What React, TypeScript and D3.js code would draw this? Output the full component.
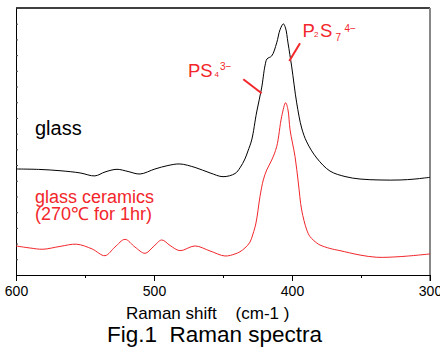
import React, { useEffect, useRef } from "react";
import * as d3 from "d3";

// Raman shift (cm-1) and intensity (a.u.)
const glassShift = [600, 582.6, 568.1, 553.6, 542.8, 535.5, 526.8, 518.8, 510.1, 499.3, 489.9, 481.2, 470.3, 459.4, 450, 441.3, 437.7, 434.1, 431.9, 429.2, 425.6, 422, 419.6, 418.1, 414.7, 411.1, 408.7, 406.3, 404.7, 402.9, 400.2, 396.6, 393, 389.3, 382.1, 372.5, 361.6, 350.7, 336.2, 321.7, 310.9, 300];
const glassInt = [6.75, 6.72, 6.64, 6.5, 6.31, 6.56, 6.73, 6.59, 6.43, 6.75, 6.97, 7.07, 6.85, 6.5, 6.26, 6.46, 6.82, 7.39, 7.9, 8.6, 10.38, 11.91, 13.31, 13.76, 13.95, 14.78, 15.61, 15.99, 15.73, 14.78, 13.25, 10.96, 9.36, 8.47, 7.45, 6.62, 6.27, 6.11, 6.05, 6.05, 6.11, 6.22];

const ceramShift = [600, 589.9, 580.4, 568.1, 556, 544.9, 535.5, 528.3, 521, 513.8, 506.5, 500.7, 494.4, 488.4, 481.2, 470.3, 459.4, 448.6, 441.3, 437.7, 434.1, 430.4, 428.3, 426.1, 423.2, 420.8, 418.3, 414.7, 411.1, 407.5, 404.6, 402.9, 401.4, 397.8, 395.4, 393, 389.3, 386.9, 382.1, 379.7, 372.5, 365.2, 350.7, 338.6, 321.7, 300];
const ceramInt = [1.85, 1.72, 1.64, 1.82, 1.96, 1.66, 1.23, 1.78, 2.27, 1.78, 1.38, 1.78, 2.23, 1.88, 1.55, 1.85, 1.53, 1.21, 1.34, 1.48, 1.72, 2.1, 2.61, 3.31, 4.99, 6.05, 6.69, 7.32, 8.17, 10.08, 10.97, 10.51, 9.24, 7.54, 5.86, 4.14, 2.87, 2.44, 2.04, 1.91, 1.69, 1.55, 1.27, 1.13, 1.17, 1.34];

const majorTicks = [600, 500, 400, 300];
const minorTicks = [550, 450, 350];
const yTicks = d3.range(1, 17);

const RED = "#f2262b";
const FONT = "'Liberation Sans', Arial, sans-serif";

export default function App() {
  const svgRef = useRef<SVGSVGElement>(null);

  useEffect(() => {
    const w = 440;
    const h = 350;
    const svg = d3.select(svgRef.current).attr("width", w).attr("height", h);
    svg.selectAll("*").remove();
    svg.style("font-family", FONT);

    const x = d3.scaleLinear().domain([600, 300]).range([16, 430]);
    const y = d3.scaleLinear().domain([0, 17]).range([275, 8]);

    const line = d3
      .line<[number, number]>()
      .x((d) => x(d[0]))
      .y((d) => y(d[1]))
      .curve(d3.curveCatmullRom.alpha(0.5));

    // frame: top black, right grey
    svg.append("line")
      .attr("x1", x(600)).attr("x2", x(300))
      .attr("y1", y(17)).attr("y2", y(17))
      .attr("stroke", "#000").attr("stroke-width", 1.3);
    svg.append("line")
      .attr("x1", x(300)).attr("x2", x(300))
      .attr("y1", y(17)).attr("y2", y(0) + 6)
      .attr("stroke", "#888").attr("stroke-width", 2);

    // left axis, small inward ticks
    const yAxis = d3.axisRight(y).tickValues(yTicks).tickSize(2).tickSizeOuter(0).tickFormat(() => "");
    svg.append("g").attr("transform", `translate(${x(600)},0)`).call(yAxis)
      .call((g) => g.selectAll("line").attr("stroke", "#444"));

    // bottom axis
    const xAxis = d3.axisBottom(x).tickValues(majorTicks).tickSize(6).tickSizeOuter(0).tickPadding(5).tickFormat(d3.format("d"));
    const gx = svg.append("g").attr("transform", `translate(0,${y(0)})`).call(xAxis);
    gx.selectAll("text").attr("font-size", 14).attr("font-family", FONT).attr("fill", "#000");
    gx.select(".domain").attr("stroke", "#000");
    const xMinor = d3.axisBottom(x).tickValues(minorTicks).tickSize(3).tickFormat(() => "");
    const gm = svg.append("g").attr("transform", `translate(0,${y(0)})`).call(xMinor);
    gm.select(".domain").remove();

    // spectra
    svg.append("path")
      .datum(glassShift.map((v, i) => [v, glassInt[i]] as [number, number]))
      .attr("d", line).attr("fill", "none").attr("stroke", "#000").attr("stroke-width", 1);
    svg.append("path")
      .datum(ceramShift.map((v, i) => [v, ceramInt[i]] as [number, number]))
      .attr("d", line).attr("fill", "none").attr("stroke", RED).attr("stroke-width", 1);

    // pointer lines
    svg.append("line")
      .attr("x1", x(435.3)).attr("y1", y(12.46)).attr("x2", x(422)).attr("y2", y(11.57))
      .attr("stroke", RED).attr("stroke-width", 2);
    svg.append("line")
      .attr("x1", x(394.2)).attr("y1", y(14.76)).attr("x2", x(401.96)).attr("y2", y(13.63))
      .attr("stroke", RED).attr("stroke-width", 2);

    // ion labels
    const ps4 = svg.append("text").attr("fill", RED);
    ps4.append("tspan").attr("x", 188).attr("y", 76.7).attr("font-size", 18.5).text("PS");
    ps4.append("tspan").attr("x", 214.5).attr("y", 76.5).attr("font-size", 8).text("4");
    ps4.append("tspan").attr("x", 220).attr("y", 70).attr("font-size", 10).text("3−");

    const p2s7 = svg.append("text").attr("fill", RED);
    p2s7.append("tspan").attr("x", 302.5).attr("y", 37.3).attr("font-size", 18.5).text("P");
    p2s7.append("tspan").attr("x", 314).attr("y", 37).attr("font-size", 8).text("2");
    p2s7.append("tspan").attr("x", 320).attr("y", 37.3).attr("font-size", 18.5).text("S");
    p2s7.append("tspan").attr("x", 335.5).attr("y", 40.5).attr("font-size", 10).text("7");
    p2s7.append("tspan").attr("x", 344.5).attr("y", 32).attr("font-size", 10).text("4−");

    // series labels
    svg.append("text").attr("x", 35).attr("y", 135).attr("font-size", 20).attr("fill", "#000").text("glass");
    svg.append("text").attr("x", 35).attr("y", 203).attr("font-size", 18).attr("fill", RED).text("glass ceramics");
    svg.append("text").attr("x", 35).attr("y", 220).attr("font-size", 18).attr("fill", RED).text("(270℃ for 1hr)");

    // axis title and caption
    svg.append("text").attr("x", 126).attr("y", 319.3).attr("font-size", 17).attr("fill", "#000")
      .attr("xml:space", "preserve").text("Raman shift    (cm-1 )");
    svg.append("text").attr("x", 107).attr("y", 341.7).attr("font-size", 22.5).attr("fill", "#000")
      .attr("xml:space", "preserve").text("Fig.1  Raman spectra");
  }, []);

  return (
    <div>
      <svg ref={svgRef} style={{ position: "absolute", left: 0, top: 0, background: "#fff" }}></svg>
    </div>
  );
}
